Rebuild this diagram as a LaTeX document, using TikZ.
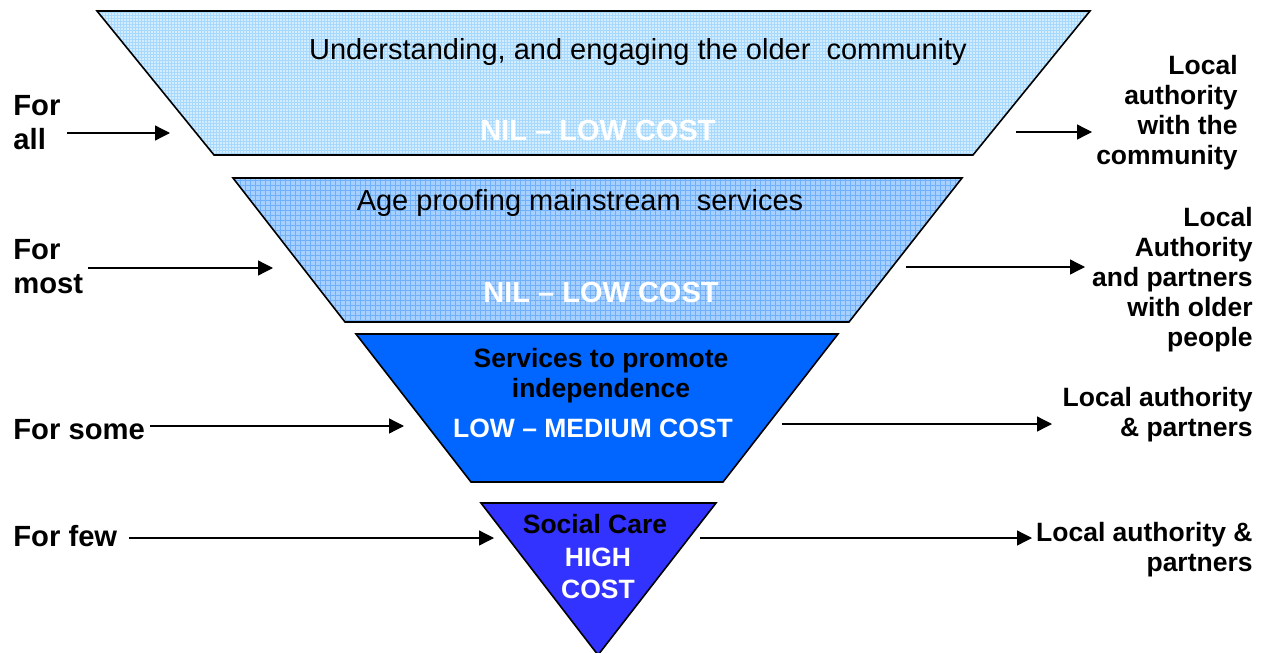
\documentclass[tikz,border=0pt]{standalone}
\usepackage{fontspec}
\setmainfont{Liberation Sans}
\usepackage{tikz}
\usetikzlibrary{arrows.meta}
\definecolor{bandA}{HTML}{D3ECFE}
\definecolor{bandAgrid}{HTML}{A6D9FD}
\definecolor{bandB}{HTML}{A6D0FF}
\definecolor{bandBgrid}{HTML}{70B0FA}
\definecolor{bandC}{HTML}{0066FF}
\definecolor{bandD}{HTML}{3333FF}

\tikzset{
  band/.style={draw=black, line width=0.8pt, line join=miter},
  reach/.style={font=\fontsize{14.6}{17}\selectfont\bfseries, inner sep=0pt, align=left},
  owner/.style={font=\fontsize{13.25}{15}\selectfont\bfseries, inner sep=0pt, align=right},
  bodytext/.style={font=\fontsize{14.5}{17}\selectfont, inner sep=0pt},
  headtext/.style={font=\fontsize{13.25}{15}\selectfont\bfseries, inner sep=0pt, align=center},
  cost/.style={font=\fontsize{14.5}{17}\selectfont\bfseries, text=white, inner sep=0pt},
  flow/.style={line width=0.65pt, -{Triangle[length=7.5pt,width=7.5pt]}}
}

\begin{document}
\begin{tikzpicture}[x=0.5pt, y=-0.5pt]
  \useasboundingbox (0,0) rectangle (1269,653);

  % BAND 1: for all
  \begin{scope}
    \clip (97,11) -- (1090,11) -- (973,155) -- (214,155) -- cycle;
    \fill[bandA] (90,5) rectangle (1100,160);
    \draw[bandAgrid, line width=0.2pt] (90,5) grid[step=1.5pt] (1100,160);
  \end{scope}
  \draw[band] (97,11) -- (1090,11) -- (973,155) -- (214,155) -- cycle;
  \node[bodytext, anchor=base] (b1) at (638,59) {Understanding, and engaging the older\ \ community};
  \node[cost, anchor=base] (c1) at (598,140) {NIL – LOW COST};

  % BAND 2: for most
  \begin{scope}
    \clip (233,178) -- (962,178) -- (849,322) -- (345,322) -- cycle;
    \fill[bandB] (225,170) rectangle (970,330);
    \draw[bandBgrid, line width=0.3pt] (225,170) grid[step=2.5pt] (970,330);
  \end{scope}
  \draw[band] (233,178) -- (962,178) -- (849,322) -- (345,322) -- cycle;
  \node[bodytext, anchor=base] (b2) at (580,210) {Age proofing mainstream\ \ services};
  \node[cost, anchor=base] (c2) at (601,302) {NIL – LOW COST};

  % BAND 3: for some
  \draw[band, fill=bandC] (356,334) -- (838,334) -- (723,482) -- (471,482) -- cycle;
  \node[headtext, anchor=north] (b3) at (601,348) {Services to promote\\independence};
  \node[cost, font=\fontsize{13.25}{15}\selectfont\bfseries, anchor=base] (c3) at (593,437) {LOW – MEDIUM COST};

  % BAND 4: for few
  \draw[band, fill=bandD] (481,503) -- (716,503) -- (598,655) -- cycle;
  \node[headtext, anchor=base] (b4) at (595,533) {Social Care};
  \node[cost, font=\fontsize{13.25}{16}\selectfont\bfseries, align=center, anchor=north] (c4) at (598,548) {HIGH\\COST};

  % who it is for
  \node[reach, anchor=north west] (all) at (13,95) {For\\all};
  \node[reach, anchor=north west] (most) at (13,239) {For\\most};
  \node[reach, anchor=base west] (some) at (13,439) {For some};
  \node[reach, anchor=base west] (few) at (13,546) {For few};

  % who delivers it
  \node[owner, anchor=north east] (la1) at (1238,55) {Local\\authority\\with the\\community};
  \node[owner, anchor=north east] (la2) at (1253,207) {Local\\Authority\\and partners\\with older\\people};
  \node[owner, anchor=north east] (la3) at (1253,387) {Local authority\\\& partners};
  \node[owner, anchor=north east] (la4) at (1253,522) {Local authority \&\\partners};

  % arrow ends
  \coordinate (allA) at (67,133);   \coordinate (allB) at (170,133);
  \coordinate (mostA) at (88,268);  \coordinate (mostB) at (273,268);
  \coordinate (someA) at (150,426); \coordinate (someB) at (404,426);
  \coordinate (fewA) at (129,538);  \coordinate (fewB) at (494,538);
  \coordinate (la1A) at (1016,132); \coordinate (la1B) at (1092,132);
  \coordinate (la2A) at (906,267);  \coordinate (la2B) at (1085,267);
  \coordinate (la3A) at (782,424);  \coordinate (la3B) at (1052,424);
  \coordinate (la4A) at (700,538);  \coordinate (la4B) at (1032,538);

  % arrows
  \draw[flow] (allA) -- (allB);
  \draw[flow] (mostA) -- (mostB);
  \draw[flow] (someA) -- (someB);
  \draw[flow] (fewA) -- (fewB);
  \draw[flow] (la1A) -- (la1B);
  \draw[flow] (la2A) -- (la2B);
  \draw[flow] (la3A) -- (la3B);
  \draw[flow] (la4A) -- (la4B);
\end{tikzpicture}
\end{document}
